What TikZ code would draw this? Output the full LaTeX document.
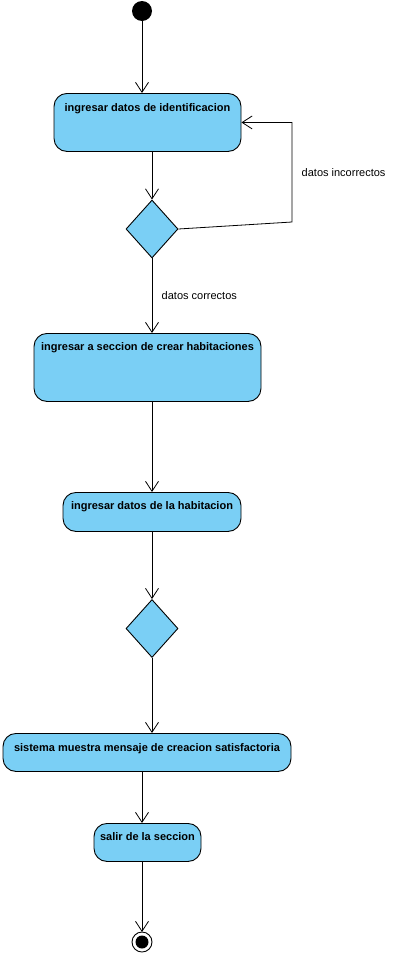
\documentclass[tikz,border=0pt]{standalone}
\usepackage{fontspec}
\setmainfont{Liberation Sans}
\usepackage{xcolor}
\usepackage{tikz}
\usetikzlibrary{arrows.meta}
\usetikzlibrary{shapes.geometric}
\definecolor{actblue}{RGB}{122,207,245}
\begin{document}
\begin{tikzpicture}[x=1pt,y=-1pt,
		act/.style={draw,fill=actblue,line width=0.9pt,rounded corners=13pt,anchor=north,inner ysep=0pt,align=center,font=\fontsize{11}{13}\selectfont\bfseries},
		decision/.style={draw,fill=actblue,line width=0.9pt,diamond,minimum width=52pt,minimum height=58pt,inner sep=0pt},
		flow/.style={-{Straight Barb[length=10pt,width=13pt]},line width=0.8pt},
		guard/.style={font=\fontsize{11}{13}\selectfont}]
		\useasboundingbox (0,0) rectangle (400,956);
		\fill[black] (142,11) circle (10) coordinate(start);
		\node[act,minimum width=187pt,text height=18.5pt,text depth=39.5pt] (ident) at (147.5,93) {ingresar datos de identificacion};
		\node[decision] (check) at (152,229) {};
		\coordinate (loop) at (292,222);
		\node[act,minimum width=227pt,text height=17pt,text depth=51pt] (seccion) at (147.5,333) {ingresar a seccion de crear habitaciones};
		\node[act,minimum width=178pt,text height=17.5pt,text depth=21.5pt] (habit) at (152,492) {ingresar datos de la habitacion};
		\node[decision] (merge) at (152,628.5) {};
		\node[act,minimum width=288pt,text height=18pt,text depth=20pt] (mensaje) at (147,733) {sistema muestra mensaje de creacion satisfactoria};
		\node[act,minimum width=107pt,text height=17pt,text depth=21pt] (salir) at (147.5,823) {salir de la seccion};
		\draw[line width=0.9pt,fill=white] (142,942) circle (10);
		\fill[black] (142,942) circle (6.5) coordinate(end);
		\draw[flow] (start) -- (start |- ident.north);
		\draw[flow] (ident.south -| check) -- (check.north);
		\draw[flow] (check.east) -- (loop) |- node[guard,right=6pt,pos=0.25] {datos incorrectos} (ident.east);
		\draw[flow] (check.south) -- node[guard,right=6pt,midway] {datos correctos} (seccion.north -| check);
		\draw[flow] (seccion.south -| check) -- (habit.north);
		\draw[flow] (habit.south) -- (merge.north);
		\draw[flow] (merge.south) -- (mensaje.north -| merge);
		\draw[flow] (mensaje.south -| end) -- (salir.north -| end);
		\draw[flow] (salir.south -| end) -- (142,932);
	\end{tikzpicture}
\end{document}
